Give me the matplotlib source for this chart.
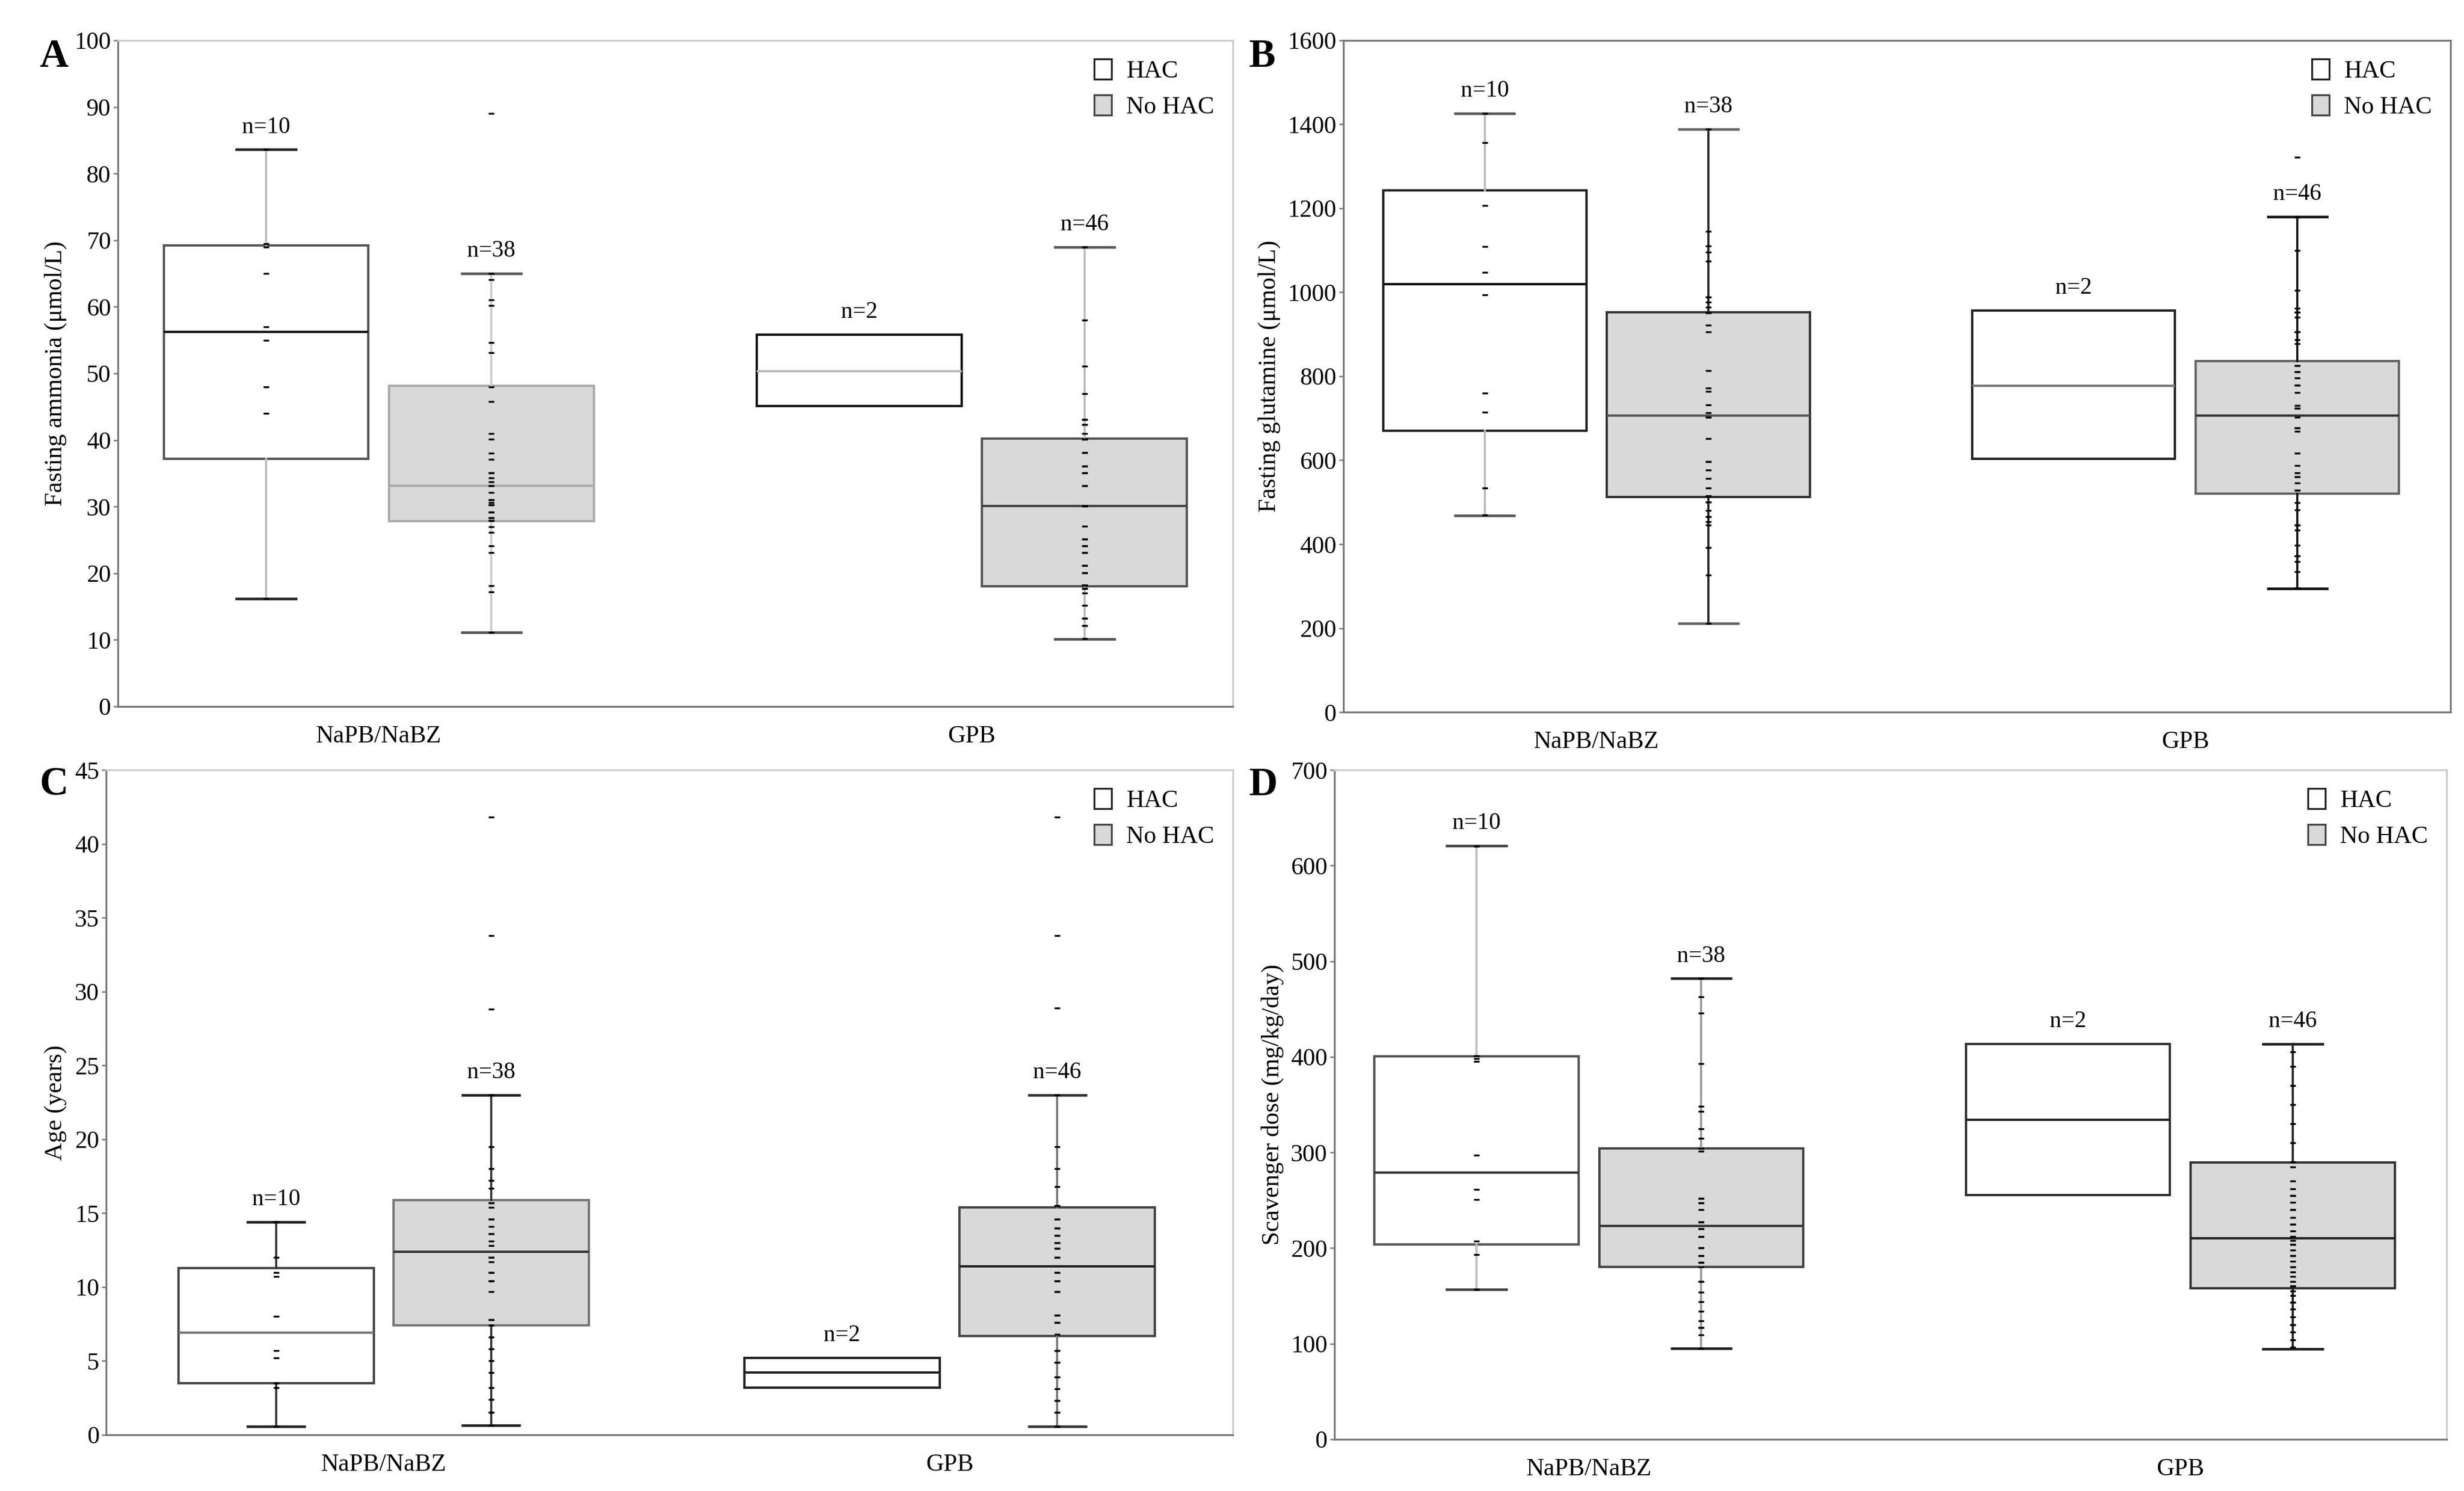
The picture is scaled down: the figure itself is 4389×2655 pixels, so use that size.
import matplotlib
matplotlib.use('Agg')
import matplotlib.pyplot as plt
from matplotlib.patches import Patch

plt.rcParams['font.family'] = ['Liberation Serif', 'DejaVu Serif']

groups = ['NaPB/NaBZ', 'GPB']
series = ['HAC', 'No HAC']
# box order: NaPB HAC, NaPB No HAC, GPB HAC, GPB No HAC

# A - fasting ammonia
amm_q1 = [37.2, 27.8, 45.1, 18.0]
amm_med = [56.2, 33.1, 50.3, 30.1]
amm_q3 = [69.2, 48.1, 55.8, 40.2]
amm_lo = [16.2, 11.1, 45.1, 10.1]
amm_hi = [83.6, 65.0, 55.8, 69.0]
amm_n = [10, 38, 2, 46]
amm_pts = [
    [83.6, 69.5, 69.0, 65.0, 57.0, 55.0, 48.0, 44.0, 16.2],
    [89.0, 65.0, 64.1, 61.0, 60.2, 54.6, 53.1, 48.0, 45.8, 41.0, 40.1, 38.0, 37.1,
     35.1, 34.3, 33.7, 33.1, 32.1, 31.0, 30.6, 30.3, 29.2, 28.3, 27.9, 27.0, 26.1,
     24.1, 23.1, 18.1, 17.2, 11.1, 33.1, 31.0, 30.3, 28.3, 27.9, 35.1, 29.2],
    [],
    [69.0, 58.0, 51.1, 47.0, 43.1, 42.3, 41.0, 40.1, 38.1, 36.1, 35.1, 33.1, 30.1,
     27.1, 25.1, 24.1, 23.1, 21.2, 20.1, 18.2, 17.7, 17.0, 15.2, 13.2, 12.1, 10.2,
     43.1, 42.3, 40.1, 40.1, 38.1, 36.1, 35.1, 33.1, 30.1, 30.1, 25.1, 24.1, 23.1,
     21.2, 20.1, 18.2, 18.2, 17.7, 13.2, 12.1],
]

# B - fasting glutamine
glu_q1 = [670.6, 512, 603.7, 521]
glu_med = [1020, 706, 777, 706]
glu_q3 = [1242.6, 953, 956.6, 836]
glu_lo = [468.7, 212, 603.7, 294]
glu_hi = [1426, 1389, 956.6, 1180]
glu_n = [10, 38, 2, 46]
glu_pts = [
    [1426, 1356, 1206, 1109, 1047, 994, 760, 714, 534, 469],
    [1389, 1145, 1110, 1095, 1074, 989, 976, 964, 951, 922, 906, 814, 772, 764, 732,
     713, 703, 651, 597, 576, 557, 534, 515, 500, 480, 465, 453, 446, 392, 327, 212,
     989, 951, 703, 597, 515, 500, 465],
    [],
    [1322, 1179, 1099, 1004, 962, 952, 941, 906, 887, 878, 825, 811, 796, 778, 761,
     731, 724, 702, 677, 669, 617, 587, 570, 560, 546, 528, 499, 481, 445, 434, 397,
     372, 358, 334, 296, 952, 906, 825, 811, 778, 724, 677, 560, 528, 445, 372],
]

# C - age
age_q1 = [3.5, 7.4, 3.2, 6.7]
age_med = [6.9, 12.4, 4.2, 11.4]
age_q3 = [11.3, 15.9, 5.2, 15.4]
age_lo = [0.55, 0.65, 3.2, 0.55]
age_hi = [14.4, 23.0, 5.2, 23.0]
age_n = [10, 38, 2, 46]
age_pts = [
    [14.4, 12.0, 11.0, 10.7, 8.0, 5.7, 5.2, 3.5, 3.2, 0.55],
    [41.8, 33.8, 28.8, 23.0, 19.5, 18.0, 17.2, 16.7, 15.7, 15.4, 14.6, 14.1, 13.6,
     13.1, 12.8, 12.0, 11.7, 11.0, 10.4, 9.7, 7.8, 7.4, 6.6, 5.8, 5.0, 4.2, 3.2, 2.4,
     1.5, 0.65, 14.6, 13.6, 12.0, 11.0, 10.4, 15.7, 7.8, 1.5],
    [],
    [41.8, 33.8, 28.9, 23.0, 19.5, 18.0, 16.8, 15.5, 14.6, 14.0, 13.5, 13.0, 12.6,
     12.0, 11.0, 10.4, 9.7, 8.1, 7.6, 6.8, 5.7, 4.9, 3.9, 3.1, 2.3, 1.5, 0.55,
     15.5, 14.6, 14.0, 13.5, 13.0, 12.6, 12.0, 11.0, 10.4, 9.7, 8.1, 7.6, 5.7, 4.9,
     3.9, 2.3, 1.5, 0.55],
]

# D - scavenger dose
dose_q1 = [204, 180.5, 255.2, 158]
dose_med = [278.8, 223.1, 334, 210]
dose_q3 = [400.6, 303.9, 413.7, 289.3]
dose_lo = [157, 95.3, 255.2, 94.3]
dose_hi = [620.8, 481.9, 413.7, 413.7]
dose_n = [10, 38, 2, 46]
dose_pts = [
    [620, 401, 398, 395, 297, 261, 251, 207, 193, 157],
    [482, 463, 446, 393, 348, 343, 325, 315, 301, 252, 247, 240, 227, 220, 212, 200,
     192, 185, 165, 154, 144, 134, 124, 117, 109, 95, 252, 247, 227, 220, 212, 200,
     192, 185, 304, 180, 165, 117],
    [],
    [405, 390, 370, 350, 330, 310, 290, 285, 270, 262, 255, 248, 240, 232, 225, 218,
     212, 208, 204, 198, 192, 186, 180, 175, 170, 165, 160, 155, 150, 143, 136, 128,
     120, 112, 104, 96, 255, 240, 225, 212, 204, 192, 180, 160, 143, 120],
]

panels = [
    ('A', 'Fasting ammonia (μmol/L)', 100, 10,
     amm_q1, amm_med, amm_q3, amm_lo, amm_hi, amm_n, amm_pts),
    ('B', 'Fasting glutamine (μmol/L)', 1600, 200,
     glu_q1, glu_med, glu_q3, glu_lo, glu_hi, glu_n, glu_pts),
    ('C', 'Age (years)', 45, 5,
     age_q1, age_med, age_q3, age_lo, age_hi, age_n, age_pts),
    ('D', 'Scavenger dose (mg/kg/day)', 700, 100,
     dose_q1, dose_med, dose_q3, dose_lo, dose_hi, dose_n, dose_pts),
]

# layout (figure fractions) and look
rects = [[0.0478, 0.5262, 0.4525, 0.4467],
         [0.5452, 0.5224, 0.4493, 0.4505],
         [0.0431, 0.0377, 0.4572, 0.4459],
         [0.5416, 0.0347, 0.4513, 0.4489]]
xlims = [(-0.44, 1.44), (-0.43, 1.45), (-0.49, 1.50), (-0.43, 1.45)]
letter_pos = [(0.016, 0.974), (0.507, 0.974), (0.016, 0.4855), (0.507, 0.4855)]
top_spine = ['#cccccc', '#777777', '#cccccc', '#cccccc']
# (box edge, median, whisker, cap) per box
line_cols = [
    [('#555555', '#111111', '#bbbbbb', '#222222'), ('#aaaaaa', '#aaaaaa', '#cccccc', '#555555'),
     ('#111111', '#bbbbbb', None, None), ('#555555', '#444444', '#bbbbbb', '#555555')],
    [('#222222', '#111111', '#bbbbbb', '#555555'), ('#333333', '#555555', '#222222', '#666666'),
     ('#222222', '#777777', None, None), ('#666666', '#333333', '#111111', '#111111')],
    [('#444444', '#777777', '#333333', '#222222'), ('#777777', '#333333', '#333333', '#222222'),
     ('#222222', '#222222', None, None), ('#444444', '#222222', '#777777', '#333333')],
    [('#555555', '#333333', '#bbbbbb', '#444444'), ('#444444', '#333333', '#999999', '#222222'),
     ('#333333', '#222222', None, None), ('#333333', '#222222', '#222222', '#222222')],
]
fills = ['white', '#d9d9d9', 'white', '#d9d9d9']
off = 0.19
positions = [0 - off, 0 + off, 1 - off, 1 + off]

fig = plt.figure(figsize=(4389 / 300, 2655 / 300), dpi=300)

for i, (letter, ylab, ymax, ystep, q1, med, q3, lo, hi, ns, pts) in enumerate(panels):
    ax = fig.add_axes(rects[i])
    stats = []
    for k in range(4):
        stats.append({'q1': q1[k], 'med': med[k], 'q3': q3[k],
                      'whislo': lo[k], 'whishi': hi[k], 'fliers': []})
    bp = ax.bxp(stats, positions=positions, widths=0.345, patch_artist=True,
                showfliers=False, capwidths=0.1, manage_ticks=False)
    for k in range(4):
        bcol, mcol, wcol, ccol = line_cols[i][k]
        box = bp['boxes'][k]
        box.set_facecolor(fills[k])
        box.set_edgecolor(bcol)
        box.set_linewidth(1.0)
        bp['medians'][k].set_color(mcol)
        bp['medians'][k].set_linewidth(1.0)
        for j in (2 * k, 2 * k + 1):
            if wcol is None:
                bp['whiskers'][j].set_visible(False)
                bp['caps'][j].set_visible(False)
            else:
                bp['whiskers'][j].set_color(wcol)
                bp['whiskers'][j].set_linewidth(0.9)
                bp['caps'][j].set_color(ccol)
                bp['caps'][j].set_linewidth(1.1)
        if pts[k]:
            ax.plot([positions[k]] * len(pts[k]), pts[k], ls='none', marker='_',
                    ms=2.4, mew=0.8, color='black', zorder=5)
        ax.annotate(f'n={ns[k]}', xy=(positions[k], hi[k]), xytext=(0, 5),
                    textcoords='offset points', ha='center', va='bottom', fontsize=10)

    ax.set_xlim(*xlims[i])
    ax.set_ylim(0, ymax)
    ax.set_yticks(range(0, ymax + 1, ystep))
    ax.set_xticks([0, 1])
    ax.set_xticklabels(groups)
    ax.tick_params(axis='x', length=0, pad=8, labelsize=10.5)
    ax.tick_params(axis='y', length=2, width=0.6, pad=1, labelsize=10.5, color='#777777')
    ax.set_ylabel(ylab, fontsize=10.5, labelpad=3)
    for s in ('left', 'bottom'):
        ax.spines[s].set_color('#777777')
        ax.spines[s].set_linewidth(0.8)
    for s in ('top', 'right'):
        ax.spines[s].set_color(top_spine[i])
        ax.spines[s].set_linewidth(0.8)

    handles = [Patch(facecolor='white', edgecolor='#222222', linewidth=0.8),
               Patch(facecolor='#d9d9d9', edgecolor='#444444', linewidth=0.8)]
    ax.legend(handles, series, loc='upper right', frameon=False, fontsize=10.5,
              handlelength=0.7, handleheight=0.9, handletextpad=0.6,
              labelspacing=0.5, borderaxespad=0.35, borderpad=0.4)

    fig.text(letter_pos[i][0], letter_pos[i][1], letter, fontsize=17,
             fontweight='bold', va='top', ha='left')

fig.savefig('out.png', dpi=300, facecolor='white')
